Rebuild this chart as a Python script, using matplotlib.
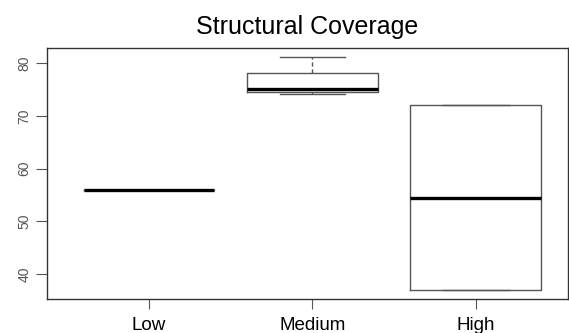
import matplotlib
matplotlib.use("Agg")
import matplotlib.pyplot as plt

plt.rcParams['font.family'] = ['Liberation Sans', 'DejaVu Sans']

# five-number summaries
groups = ['Low', 'Medium', 'High']
mins = [56.0, 74.1, 37.0]
q1s = [56.0, 74.5, 37.0]
medians = [56.0, 75.1, 54.5]
q3s = [56.0, 78.1, 72.0]
maxs = [56.0, 81.1, 72.0]
yticks = [40, 50, 60, 70, 80]

stats = []
for g, lo, a, m, b, hi in zip(groups, mins, q1s, medians, q3s, maxs):
    stats.append({'label': g, 'whislo': lo, 'q1': a, 'med': m, 'q3': b,
                  'whishi': hi, 'fliers': []})

fig = plt.figure(figsize=(5.69, 3.33), dpi=100)
ax = fig.add_axes([0.082, 0.102, 0.916, 0.754])

edge = '#555555'
ax.bxp(stats, positions=[1, 2, 3], widths=0.8, showfliers=False,
       boxprops=dict(color=edge, linewidth=1.0),
       whiskerprops=dict(color=edge, linewidth=1.0, linestyle=(0, (3, 2))),
       capprops=dict(color=edge, linewidth=1.0),
       medianprops=dict(color='black', linewidth=2.4, solid_capstyle='butt'),
       capwidths=0.4)

ax.set_xlim(0.374, 3.563)
ax.set_ylim(35.3, 82.9)
ax.set_yticks(yticks)
ax.set_yticklabels([str(t) for t in yticks], rotation=90, va='center',
                   color='#555555', fontsize=10)
ax.set_xticks([1, 2, 3])
ax.set_xticklabels(groups, fontsize=13.5)
ax.tick_params(axis='y', length=8, width=0.8, color='#555555', pad=3)
ax.tick_params(axis='x', length=7, width=0.8, color='#555555', pad=6)
for s in ax.spines.values():
    s.set_color('#333333')
    s.set_linewidth(1.0)

ax.set_title('Structural Coverage', fontsize=18, pad=10)

fig.savefig('out.png', dpi=100)
